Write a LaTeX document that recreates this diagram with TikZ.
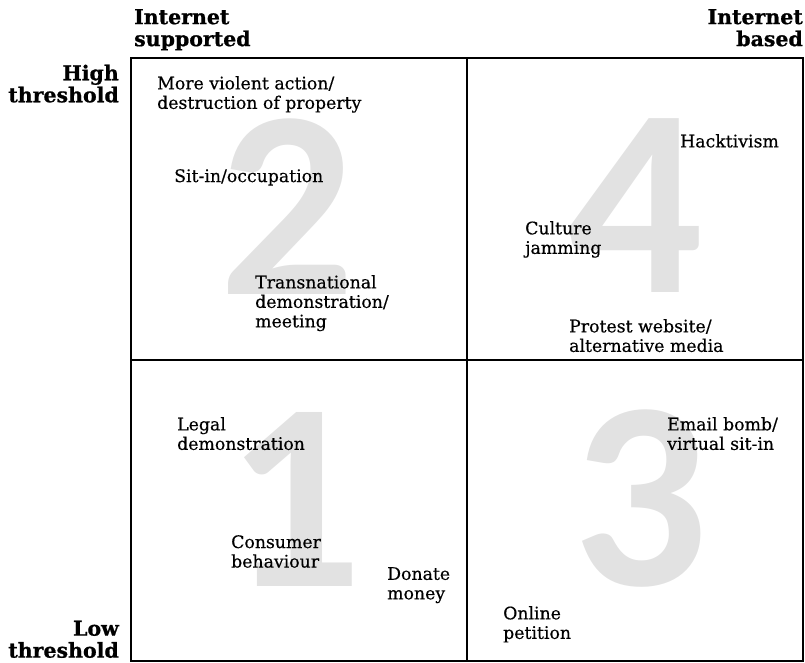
\documentclass[tikz,border=0pt]{standalone}
\usepackage{fontspec}
\setmainfont{DejaVu Serif}
\newfontfamily\itemfont[FakeBold=0.4]{DejaVu Serif}
\newfontfamily\headfont[FakeBold=0.8]{DejaVu Serif Bold}
\newfontfamily\numfont{Carlito}
\definecolor{numgray}{RGB}{226,226,226}
\begin{document}
\begin{tikzpicture}[x=1pt,y=-1pt,
  item/.style={anchor=north west, inner sep=0pt, align=left, font=\itemfont\fontsize{17.3}{19.5}\selectfont},
  head/.style={inner sep=0pt, font=\headfont\fontsize{20.5}{22}\selectfont},
  bignum/.style={inner sep=0pt, anchor=center, text=numgray, font=\numfont\bfseries\fontsize{268}{268}\selectfont},
  outer/.style={draw=black, line width=2pt},
  divider/.style={draw=black, line width=1.4pt}]
\useasboundingbox (0,0) rectangle (805,663);
% big quadrant numbers
\node[bignum] (n2) at (287.5,207) {2};
\node[bignum] (n4) at (635.5,205.5) {4};
\node[bignum] (n1) at (294.5,499) {1};
\node[bignum] (n3) at (640.5,499) {3};
% frame
\draw[divider] (467,58) -- (467,661);
\draw[divider] (131,360) -- (803,360);
\draw[outer] (131,58) rectangle (803,661);
% headers
\node[head, anchor=north west, align=left] (hsup) at (134,9) {Internet\\supported};
\node[head, anchor=north east, align=right] (hbas) at (803,9) {Internet\\based};
\node[head, anchor=north east, align=right] (hhigh) at (119,64.5) {High\\threshold};
\node[head, anchor=north east, align=right] (hlow) at (119,620.5) {Low\\threshold};
% items
\node[item] (a1) at (157,76) {More violent action/\\destruction of property};
\node[item] (a2) at (174,169) {Sit-in/occupation};
\node[item] (a3) at (255,275) {Transnational\\demonstration/\\meeting};
\node[item] (b1) at (680,134) {Hacktivism};
\node[item] (b2) at (525,221) {Culture\\jamming};
\node[item] (b3) at (569,319) {Protest website/\\alternative media};
\node[item] (c1) at (177,417) {Legal\\demonstration};
\node[item] (c2) at (231,535) {Consumer\\behaviour};
\node[item] (c3) at (387,567) {Donate\\money};
\node[item] (d1) at (667,417) {Email bomb/\\virtual sit-in};
\node[item] (d2) at (503,606) {Online\\petition};
\end{tikzpicture}
\end{document}
